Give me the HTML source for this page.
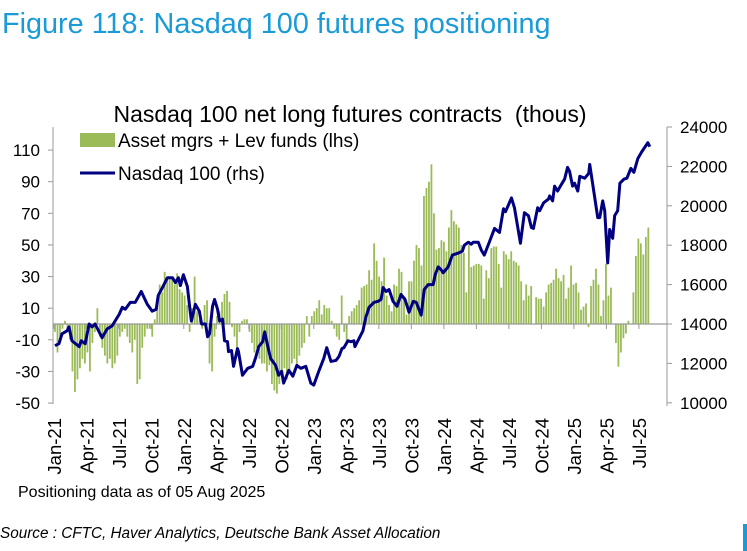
<!DOCTYPE html>
<html><head><meta charset="utf-8"><style>
html,body{margin:0;padding:0;background:#fff;}
svg{display:block;font-family:"Liberation Sans",sans-serif;}
</style></head><body>
<svg id="chart" width="747" height="551" viewBox="0 0 747 551" xmlns="http://www.w3.org/2000/svg">
<text x="2" y="33" font-size="28.8" fill="#1a9ad6">Figure 118: Nasdaq 100 futures positioning</text>
<text x="350" y="122" font-size="23" text-anchor="middle" fill="#000" style="white-space:pre">Nasdaq 100 net long futures contracts  (thous)</text>
<g>
<rect x="80" y="133" width="35" height="14" fill="#9bbb59"/>
<text x="118" y="147" font-size="19">Asset mgrs + Lev funds (lhs)</text>
<line x1="80" y1="173" x2="115" y2="173" stroke="#000080" stroke-width="3"/>
<text x="118" y="180" font-size="19">Nasdaq 100 (rhs)</text>
</g>
<g id="bars"></g>
<g id="axes"></g>
<path id="line" fill="none" stroke="#000080" stroke-width="3" stroke-linejoin="round"/>
<text x="18" y="497" font-size="16">Positioning data as of 05 Aug 2025</text>
<text x="0" y="538" font-size="15.3" font-style="italic">Source : CFTC, Haver Analytics, Deutsche Bank Asset Allocation</text>
<rect x="743" y="524" width="4" height="27" fill="#1a9ad6"/>
</svg>
<script>
const barValues = [-5,-18,-8,-3,2,-3,-10,-30,-43,-35,-28,-22,-25,-18,-30,-12,-5,10,-8,-15,-20,-25,-22,-28,-25,-20,-8,-5,-3,-8,-12,-18,-10,-38,-35,-15,-8,-3,-3,-8,3,15,25,20,33,28,30,30,25,32,22,20,18,12,-5,10,30,8,3,-3,12,15,-25,-30,-8,5,8,14,19,21,14,-2,-8,-15,-5,2,3,3,-5,-12,-18,-15,-22,-25,-25,-30,-26,-38,-42,-44,-38,-32,-28,-35,-30,-25,-22,-28,-20,-15,-12,5,-8,5,8,10,15,6,12,10,10,2,-3,-8,-10,18,-5,-12,5,8,10,12,15,23,24,
25,34,28,51,40,30,27,42,18,12,8,25,24,35,33,16,6,27,27,40,50,48,37,81,86,90,101,70,47,48,53,52,46,61,72,65,63,61,50,45,20,50,36,37,38,38,37,16,34,29,48,49,49,38,23,46,44,41,46,40,
39,37,27,15,25,18,24,0,17,16,16,11,20,25,26,28,35,29,27,31,16,23,37,25,26,20,9,11,13,-2,24,28,35,25,5,15,38,18,23,0,-12,-27,-18,-9,-6,2,0,20,43,54,51,44,55,61];
const lineWeeks = [0,1.6,2.8,4.8,5.6,6.8,9.7,10.5,12.1,13.7,14.9,16.1,18.9,20.9,22.9,25.8,27,28.2,30.2,32.2,34.6,37,39,40.6,41.4,43.1,45.1,47.1,48.3,49.5,50.3,51.5,53.1,53.9,54.7,56.3,57.9,58.8,60.4,61.2,62,63.2,64,65.2,66,67.2,68,69.2,69.6,70.8,71.6,73.2,73.6,75.2,77.3,79.3,80.5,81.7,83.3,84.1,85.3,86.5,88.5,89.7,90.9,91.7,93.8,95.4,97,98.6,100.6,102.6,103.8,105.8,107.8,109,110.7,112.7,113.9,115.1,115.9,117.5,118.7,119.9,120.3,121.5,123.5,124.7,126,128,129.6,130.8,131.6,132.8,134,135.6,137.2,138.8,140.4,142,143.7,144.9,146.9,148.1,149.7,151.7,152.5,153.7,154.9,155.7,157.7,159.4,161.8,163.4,164.2,165.8,167,167.8,169.8,171,172.2,174.2,176.3,178.3,179.9,180.7,183.1,184.3,186.7,188.3,189.9,191.1,191.9,193.6,194.4,196,198,198.4,199.6,200.4,201.6,203.2,204.4,205.6,206.4,207.6,208.4,209.7,210.5,212.5,214.1,214.5,216.1,217.7,218.5,219.7,220.5,221.7,222.5,223.7,224.5,225.7,226.6,228.2,229.4,231,232.2,233.8,235.4,237.8,238.6];
const lineValues = [12900,13000,13500,13650,13850,13150,12850,13150,13000,14000,13850,14000,13300,13750,13900,14500,14850,14750,15100,15100,15650,15000,14650,14750,15450,15850,16350,16350,16100,16350,15950,16500,15900,15000,14150,15000,14650,14000,14000,13350,13500,14900,15250,14750,14150,14250,13150,13100,12600,12650,11850,12750,12600,11400,11750,11850,12300,12850,13100,13600,12900,12250,11900,11400,11600,11000,11650,11350,11900,11750,11850,11000,10900,11600,12250,12800,12100,12150,12350,12750,12800,13150,13100,13150,12850,13150,13650,14350,14850,15100,15150,15250,15850,15650,15750,15150,14900,15500,15250,14600,15150,15100,14450,15750,16000,16000,16500,16900,16750,16600,16900,17500,17600,17700,18000,18150,18050,18150,18150,17750,17500,18150,18850,18650,19850,19700,20400,19900,18100,19650,19500,18900,18850,19900,19750,20150,20350,20500,20250,21000,20750,21100,21350,21950,21750,21000,21150,20750,21500,21400,21650,22100,20750,19400,19400,20250,19750,17100,18800,18350,19500,19750,21150,21350,21400,21900,21700,22400,22750,23200,23000];
const leftTicks = [110,90,70,50,30,10,-10,-30,-50];
const rightTicks = [24000,22000,20000,18000,16000,14000,12000,10000];
const xLabels = ["Jan-21","Apr-21","Jul-21","Oct-21","Jan-22","Apr-22","Jul-22","Oct-22","Jan-23","Apr-23","Jul-23","Oct-23","Jan-24","Apr-24","Jul-24","Oct-24","Jan-25","Apr-25","Jul-25"];

const NS="http://www.w3.org/2000/svg";
const X0=55, STEP=2.493, XL=53, XR=667;
const xw = w => X0 + w*STEP;
const yL = v => 324 - v*1.581;
const yR = p => 324 - (p-14000)*0.0197;
function mk(tag, parent, attrs){const e=document.createElementNS(NS,tag);for(const k in attrs)e.setAttribute(k,attrs[k]);parent.appendChild(e);return e;}

const gb=document.getElementById('bars');
barValues.forEach((v,i)=>{
  const y0=yL(0), y1=yL(v);
  const r=mk('rect',gb,{x:(xw(i)-0.9).toFixed(2),y:Math.min(y0,y1).toFixed(2),width:1.8,height:Math.max(0.5,Math.abs(y1-y0)).toFixed(2),fill:'#9bbb59'});
  
  
});

const ga=document.getElementById('axes');
const la=mk('line',ga,{x1:XL,y1:127,x2:XL,y2:404,stroke:'#999','stroke-width':1});


const ra=mk('line',ga,{x1:XR,y1:127,x2:XR,y2:406,stroke:'#999','stroke-width':1});


const zl=mk('line',ga,{x1:XL,y1:yL(0),x2:XR,y2:yL(0),stroke:'#999','stroke-width':1.2});


leftTicks.forEach(v=>{
  const y=yL(v);
  const t=mk('line',ga,{x1:XL-5,y1:y,x2:XL,y2:y,stroke:'#999'});
  
  
  const tx=mk('text',ga,{x:40,y:y+6,'font-size':17,'text-anchor':'end'});
  tx.textContent=v;
  
  
});
rightTicks.forEach(p=>{
  const y=yR(p);
  const t=mk('line',ga,{x1:XR,y1:y,x2:XR+5,y2:y,stroke:'#999'});
  
  
  const tx=mk('text',ga,{x:680,y:y+6,'font-size':17});
  tx.textContent=p;
  
  
});
xLabels.forEach((lab,q)=>{
  const x=xw(-0.5+q*13.04);
  const t=mk('line',ga,{x1:x,y1:yL(0),x2:x,y2:yL(0)+5,stroke:'#999'});
  
  
  const tx=mk('text',ga,{x:0,y:0,'font-size':18.5,'text-anchor':'end',transform:`translate(${(x+7).toFixed(1)},418) rotate(-90)`});
  tx.textContent=lab;
  
  
});

let d='';
lineWeeks.forEach((w,i)=>{d+=(i?'L':'M')+xw(w).toFixed(2)+' '+yR(lineValues[i]).toFixed(2);});
document.getElementById('line').setAttribute('d',d);
</script>
</body></html>
